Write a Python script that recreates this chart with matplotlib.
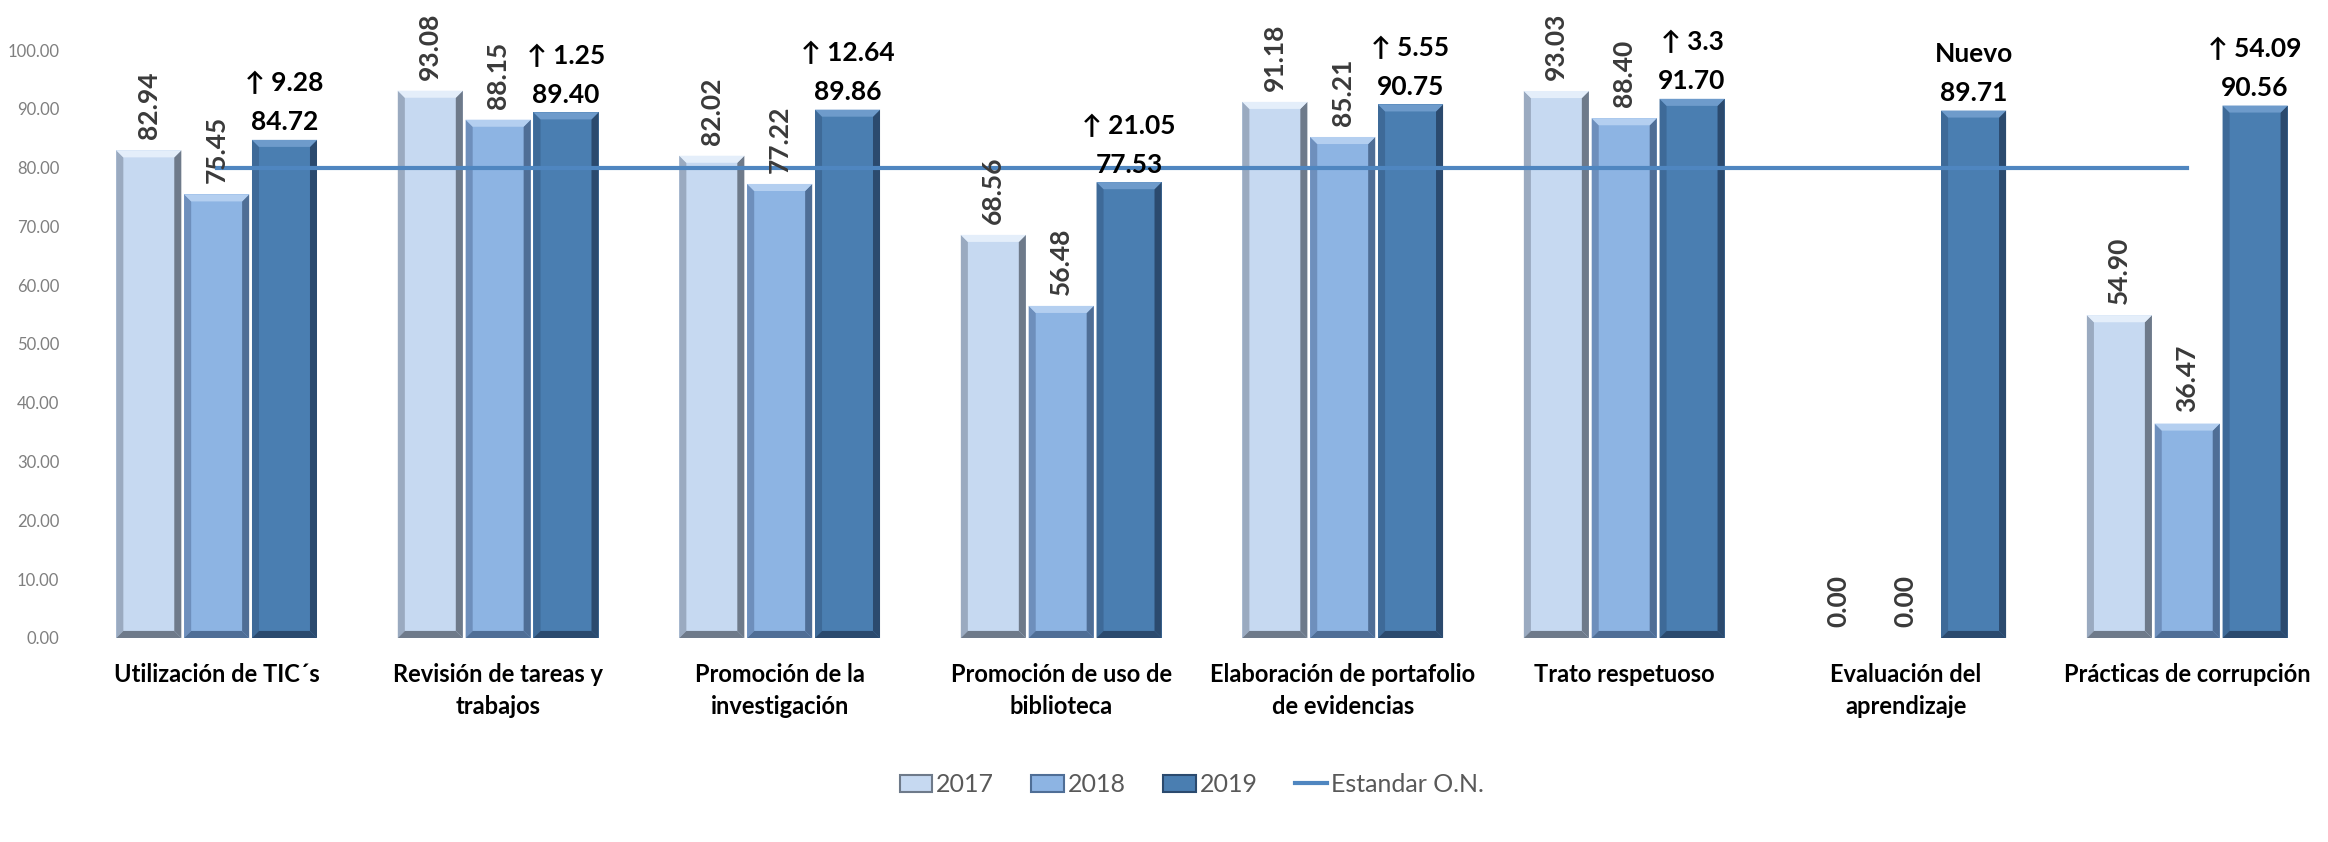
import numpy as np
import matplotlib
matplotlib.use("Agg")
import matplotlib.pyplot as plt
from matplotlib.patches import Patch, Polygon
from matplotlib.lines import Line2D

plt.rcParams['font.family'] = ['Lato', 'DejaVu Sans']

# datos
categorias = ["Utilización de TIC´s", "Revisión de tareas y\ntrabajos",
              "Promoción de la\ninvestigación", "Promoción de uso de\nbiblioteca",
              "Elaboración de portafolio\nde evidencias", "Trato respetuoso",
              "Evaluación del\naprendizaje", "Prácticas de corrupción"]
valores2017 = [82.94, 93.08, 82.02, 68.56, 91.18, 93.03, 0.00, 54.90]
valores2018 = [75.45, 88.15, 77.22, 56.48, 85.21, 88.40, 0.00, 36.47]
valores2019 = [84.72, 89.40, 89.86, 77.53, 90.75, 91.70, 89.71, 90.56]
cambios = ["↑ 9.28", "↑ 1.25", "↑ 12.64", "↑ 21.05", "↑ 5.55", "↑ 3.3", "Nuevo", "↑ 54.09"]
estandar = [80] * len(categorias)
anios = ["2017", "2018", "2019"]

colores = ["#C6D9F1", "#8DB4E3", "#4A7EB1"]
claros = ["#E4EEFA", "#B4CFF0", "#6E9BCB"]
oscuros = ["#6E7A8A", "#4F6E96", "#2B4A6E"]
izq = ["#9AAAC0", "#6E8FBC", "#3E6A98"]

fig = plt.figure(figsize=(23.28, 8.42), dpi=100)
ax = fig.add_axes([0.0326, 0.2423, 0.9674, 0.6983])

x = np.arange(len(categorias))
ancho = 0.231
paso = 0.241
bx = 0.025   # bisel horizontal (datos)
by = 1.2     # bisel vertical (datos)


def barra_bisel(ax, xc, h, k):
    x0, x1 = xc - ancho / 2, xc + ancho / 2
    ax.bar(xc, h, width=ancho, color=colores[k], linewidth=0, zorder=2)
    if h <= 0:
        return
    # bordes tipo bisel
    caras = [
        ([(x0, 0), (x0 + bx, by), (x0 + bx, h - by), (x0, h)], izq[k]),
        ([(x1, 0), (x1 - bx, by), (x1 - bx, h - by), (x1, h)], oscuros[k]),
        ([(x0, 0), (x1, 0), (x1 - bx, by), (x0 + bx, by)], oscuros[k]),
        ([(x0, h), (x1, h), (x1 - bx, h - by), (x0 + bx, h - by)], claros[k]),
    ]
    for pts, c in caras:
        ax.add_patch(Polygon(pts, closed=True, facecolor=c, edgecolor='none', zorder=3))


for k, serie in enumerate([valores2017, valores2018, valores2019]):
    for i, v in enumerate(serie):
        barra_bisel(ax, x[i] + (k - 1) * paso, v, k)

# etiquetas rotadas 2017 y 2018
for k, serie in enumerate([valores2017, valores2018]):
    for i, v in enumerate(serie):
        ax.annotate(f"{v:.2f}", (x[i] + (k - 1) * paso, v), xytext=(0, 8),
                    textcoords="offset points", rotation=90, ha='center', va='bottom',
                    fontsize=19, fontweight='bold', color="#3A3A3A", zorder=5)

# etiquetas 2019 con cambio
for i, v in enumerate(valores2019):
    ax.annotate(f"{cambios[i]}\n{v:.2f}", (x[i] + paso, v), xytext=(0, 4),
                textcoords="offset points", ha='center', va='bottom',
                fontsize=19, fontweight='bold', color="black", linespacing=1.75,
                annotation_clip=False, zorder=5)

ax.plot(x, estandar, color="#4F86C0", linewidth=3, zorder=4)

ax.set_xlim(-0.5, len(categorias) - 0.5)
ax.set_ylim(0, 100)
ax.set_yticks(np.arange(0, 101, 10))
ax.set_yticklabels([f"{t:.2f}" for t in np.arange(0, 101, 10)], fontsize=12, color="#7F7F7F")
ax.set_xticks(x)
ax.set_xticklabels(categorias, fontsize=17, fontweight='bold', color="black", linespacing=1.45)
ax.tick_params(axis='both', length=0)
ax.tick_params(axis='x', pad=18)
ax.tick_params(axis='y', pad=12)
for s in ax.spines.values():
    s.set_visible(False)

handles = [Patch(facecolor=colores[k], edgecolor=oscuros[k], linewidth=1.5) for k in range(3)]
handles.append(Line2D([0], [0], color="#4F86C0", linewidth=3))
fig.legend(handles, anios + ["Estandar O.N."], loc='center', bbox_to_anchor=(0.512, 0.068),
           ncol=4, frameon=False, fontsize=18, handlelength=1.3, handletextpad=0.15,
           columnspacing=1.5, labelcolor="#595959")

fig.savefig("out.png", dpi=100)
